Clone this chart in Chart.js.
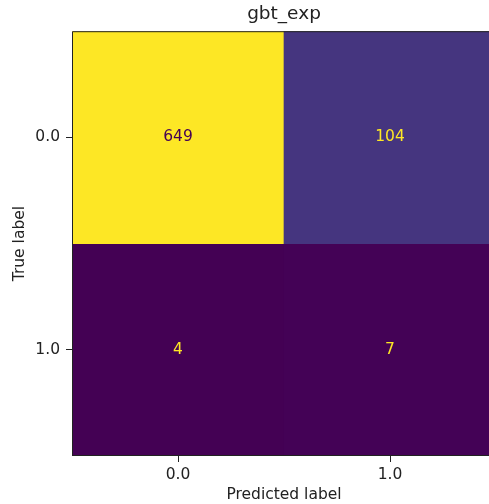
<!DOCTYPE html>
<html>
<head>
<meta charset="utf-8">
<script src="https://cdn.jsdelivr.net/npm/chart.js@4.4.0/dist/chart.umd.min.js"></script>
<style>
  html, body { margin: 0; padding: 0; background: #fff; overflow: hidden; }
  canvas { display: block; }
</style>
</head>
<body>
<canvas id="myChart" width="500" height="504" style="width:500px;height:504px"></canvas>
<script>
// confusion matrix, rows = true label, cols = predicted label
const predLabels = ['0.0', '1.0'];
const trueLabels = ['0.0', '1.0'];
const row0 = [649, 104];
const row1 = [4, 7];
const cellColors0 = ['#fde725', '#45357f'];
const cellColors1 = ['#440154', '#440256'];
const textColors0 = ['#440154', '#fde725'];
const textColors1 = ['#fde725', '#fde725'];

const font = 'DejaVu Sans';

// floating bars span one row each on the reversed y scale
function spans(row, i) {
  return row.map(() => [i - 0.5, i + 0.5]);
}

const cellText = {
  id: 'cellText',
  afterDatasetsDraw(chart) {
    const ctx = chart.ctx;
    const rows = [row0, row1];
    const tcol = [textColors0, textColors1];
    ctx.save();
    ctx.font = '15.5px "' + font + '"';
    ctx.textAlign = 'center';
    ctx.textBaseline = 'middle';
    chart.data.datasets.forEach((ds, r) => {
      chart.getDatasetMeta(r).data.forEach((bar, c) => {
        ctx.fillStyle = tcol[r][c];
        ctx.fillText(String(rows[r][c]), bar.x, (bar.y + bar.base) / 2);
      });
    });
    // frame around the axes
    const a = chart.chartArea;
    ctx.strokeStyle = '#222';
    ctx.lineWidth = 1;
    ctx.beginPath();
    ctx.moveTo(a.right, a.top + 0.5);
    ctx.lineTo(a.left + 0.5, a.top + 0.5);
    ctx.lineTo(a.left + 0.5, a.bottom - 0.5);
    ctx.lineTo(a.right, a.bottom - 0.5);
    ctx.stroke();
    ctx.restore();
  }
};

const config = {
  type: 'bar',
  data: {
    labels: predLabels,
    datasets: [
      { data: spans(row0, 0), backgroundColor: cellColors0, grouped: false, barPercentage: 1, categoryPercentage: 1, borderWidth: 0 },
      { data: spans(row1, 1), backgroundColor: cellColors1, grouped: false, barPercentage: 1, categoryPercentage: 1, borderWidth: 0 }
    ]
  },
  options: {
    responsive: false,
    animation: false,
    layout: { padding: { left: 0, right: 4, top: 0, bottom: 0 } },
    plugins: {
      legend: { display: false },
      tooltip: { enabled: false },
      title: {
        display: true,
        fullSize: false,
        text: 'gbt_exp',
        color: '#222',
        font: { family: font, size: 18.5, weight: 'normal' },
        padding: { top: 3, bottom: 6 }
      }
    },
    scales: {
      x: {
        offset: true,
        grid: { display: true, offset: false, drawOnChartArea: false, drawTicks: true, tickLength: 6, tickColor: '#222' },
        border: { display: false },
        ticks: { color: '#222', font: { family: font, size: 15.5 }, padding: 4, maxRotation: 0 },
        title: { display: true, text: 'Predicted label', color: '#222', font: { family: font, size: 15.5 }, padding: { top: 0, bottom: 0 } },
        afterFit: s => { s.height = 48; }
      },
      y: {
        type: 'linear',
        reverse: true,
        min: -0.5,
        max: 1.5,
        grid: { display: true, drawOnChartArea: false, drawTicks: true, tickLength: 6, tickColor: '#222' },
        border: { display: false },
        afterBuildTicks: s => { s.ticks = trueLabels.map((t, i) => ({ value: i })); },
        ticks: { color: '#222', font: { family: font, size: 15.5 }, padding: 6, callback: (v) => trueLabels[v] },
        title: { display: true, text: 'True label', color: '#222', font: { family: font, size: 15.5 }, padding: { top: 11, bottom: 0 } },
        afterFit: s => { s.width = 72; }
      }
    }
  },
  plugins: [cellText]
};

const myChart = new Chart(document.getElementById('myChart'), config);
</script>
</body>
</html>
